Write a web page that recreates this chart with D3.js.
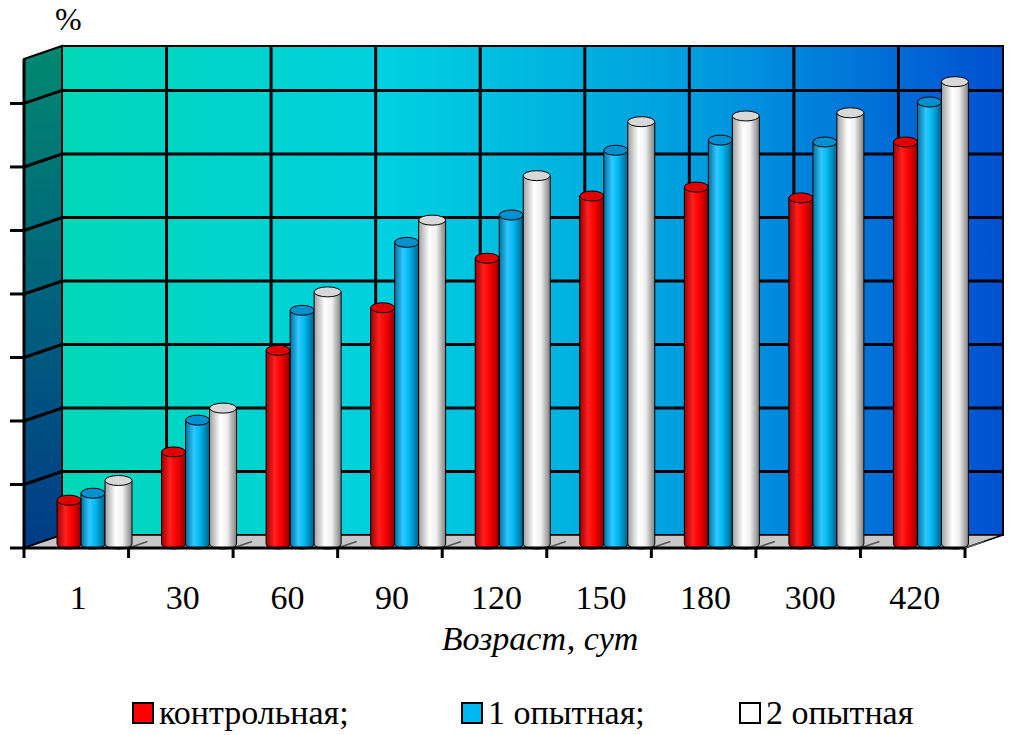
<!DOCTYPE html>
<html><head><meta charset="utf-8">
<script src="https://cdn.jsdelivr.net/npm/d3@7"></script>
<style>body{margin:0;background:#fff}</style>
</head><body><svg id="chart" width="1021" height="735" font-family="Liberation Serif, DejaVu Serif, serif"></svg>
<script>
var categories = ["1", "30", "60", "90", "120", "150", "180", "300", "420"];
var seriesNames = ["контрольная;", "1 опытная;", "2 опытная"];
var control = [6.9, 14.5, 30.5, 37.2, 45, 54.8, 56.2, 54.5, 63.3];
var exp1 = [8, 19.5, 36.8, 47.5, 51.8, 62, 63.6, 63.3, 69.6];
var exp2 = [10, 21.4, 39.7, 51, 58, 66.5, 67.4, 67.9, 72.8];
var yTicks = [0, 10, 20, 30, 40, 50, 60, 70];

var svg = d3.select("#chart");
var defs = svg.append("defs");
var left = 24, right = 965, base = 548, dx = 38, dy = -13;
var x = d3.scaleBand().domain(categories).range([left, right]);
var y = d3.scaleLinear().domain([0, 77]).range([base, base - 489]);

function grad(id, stops, vertical) {
  var g = defs.append("linearGradient").attr("id", id)
    .attr("x1", 0).attr("y1", 0).attr("x2", vertical ? 0 : 1).attr("y2", vertical ? 1 : 0);
  stops.forEach(function(s) { g.append("stop").attr("offset", s[0]).attr("stop-color", s[1]); });
}
grad("wall", [[0, "#00d8b8"], [0.35, "#00d0e0"], [0.7, "#0098e0"], [1, "#0050d0"]]);
grad("side", [[0, "#008870"], [1, "#003c88"]], true);
grad("c0", [[0, "#a00000"], [0.35, "#ff2020"], [0.6, "#ff0000"], [1, "#900000"]]);
grad("c1", [[0, "#0070a0"], [0.35, "#30c8ff"], [0.6, "#00b8f0"], [1, "#00608a"]]);
grad("c2", [[0, "#a0a0a0"], [0.4, "#ffffff"], [0.65, "#f0f0f0"], [1, "#808080"]]);

// back wall
var wallTop = y(77) + dy;
svg.append("rect").attr("x", left + dx).attr("y", wallTop)
  .attr("width", right - left).attr("height", base + dy - wallTop)
  .attr("fill", "url(#wall)").attr("stroke", "#000").attr("stroke-width", 2);
// side wall
svg.append("path").attr("d", "M" + left + "," + base + "L" + left + "," + y(77) +
  "L" + (left + dx) + "," + wallTop + "L" + (left + dx) + "," + (base + dy) + "Z")
  .attr("fill", "url(#side)").attr("stroke", "#000").attr("stroke-width", 2);
// floor
svg.append("path").attr("d", "M" + left + "," + base + "L" + (left + dx) + "," + (base + dy) +
  "L" + (right + dx) + "," + (base + dy) + "L" + right + "," + base + "Z")
  .attr("fill", "#c8c8c8").attr("stroke", "#000").attr("stroke-width", 1.5);

// grid lines
yTicks.slice(1).forEach(function(t) {
  svg.append("path").attr("d", "M" + left + "," + y(t) + "L" + (left + dx) + "," + (y(t) + dy) +
    "L" + (right + dx) + "," + (y(t) + dy)).attr("fill", "none").attr("stroke", "#000").attr("stroke-width", 3);
});
categories.slice(1).concat(["end"]).forEach(function(c) {
  var xx = c === "end" ? right : x(c);
  if (c !== "end") svg.append("line").attr("x1", xx + dx).attr("x2", xx + dx)
    .attr("y1", wallTop).attr("y2", base + dy).attr("stroke", "#000").attr("stroke-width", 3);
  svg.append("line").attr("x1", xx).attr("y1", base).attr("x2", xx + dx * 0.5).attr("y2", base + dy * 0.5)
    .attr("stroke", "#555").attr("stroke-width", 1.5);
});

// bars (cylinders)
var series = [control, exp1, exp2];
var bw = 24, off = 33, ry = 5;
categories.forEach(function(c, ci) {
  series.forEach(function(s, si) {
    var w = si === 2 ? 27 : bw;
    var bx = x(c) + off + si * bw;
    var top = y(s[ci]) - 4, bot = base - 4;
    var g = svg.append("g").attr("stroke", "#000").attr("stroke-width", 1);
    g.append("path").attr("d", "M" + bx + "," + top + "L" + bx + "," + bot +
      "A" + (w / 2) + "," + ry + " 0 0 0 " + (bx + w) + "," + bot + "L" + (bx + w) + "," + top + "Z")
      .attr("fill", "url(#c" + si + ")");
    g.append("ellipse").attr("cx", bx + w / 2).attr("cy", top).attr("rx", w / 2).attr("ry", ry)
      .attr("fill", si === 0 ? "#e00000" : si === 1 ? "#0090d0" : "#d8d8d8");
  });
});

// front axes
svg.append("line").attr("x1", left).attr("x2", left).attr("y1", y(77)).attr("y2", base)
  .attr("stroke", "#000").attr("stroke-width", 3);
svg.append("line").attr("x1", left).attr("x2", right).attr("y1", base).attr("y2", base)
  .attr("stroke", "#000").attr("stroke-width", 3);
svg.append("g").selectAll("line").data(yTicks).enter().append("line")
  .attr("x1", left - 14).attr("x2", left).attr("y1", d => y(d)).attr("y2", d => y(d))
  .attr("stroke", "#000").attr("stroke-width", 3);
svg.append("g").selectAll("line").data(categories.concat(["end"])).enter().append("line")
  .attr("x1", d => d === "end" ? right : x(d)).attr("x2", d => d === "end" ? right : x(d))
  .attr("y1", base).attr("y2", base + 10).attr("stroke", "#000").attr("stroke-width", 3);

svg.append("g").selectAll("text").data(categories).enter().append("text")
  .attr("x", d => x(d) + x.bandwidth() / 2 + 2).attr("y", 609).attr("text-anchor", "middle")
  .attr("font-size", 34).text(d => d);
svg.append("text").attr("x", 540).attr("y", 650).attr("text-anchor", "middle")
  .attr("font-size", 34).attr("font-style", "italic").text("Возраст, сут");
svg.append("text").attr("x", 55).attr("y", 30).attr("font-size", 32).text("%");

// legend
var lx = [133, 462, 740];
var lfill = ["#ff0000", "#00b8f0", "#ffffff"];
seriesNames.forEach(function(n, i) {
  svg.append("rect").attr("x", lx[i]).attr("y", 703).attr("width", 20).attr("height", 20)
    .attr("fill", lfill[i]).attr("stroke", "#000").attr("stroke-width", 2);
  svg.append("text").attr("x", lx[i] + 26).attr("y", 724).attr("font-size", 34).text(n);
});
</script></body></html>
